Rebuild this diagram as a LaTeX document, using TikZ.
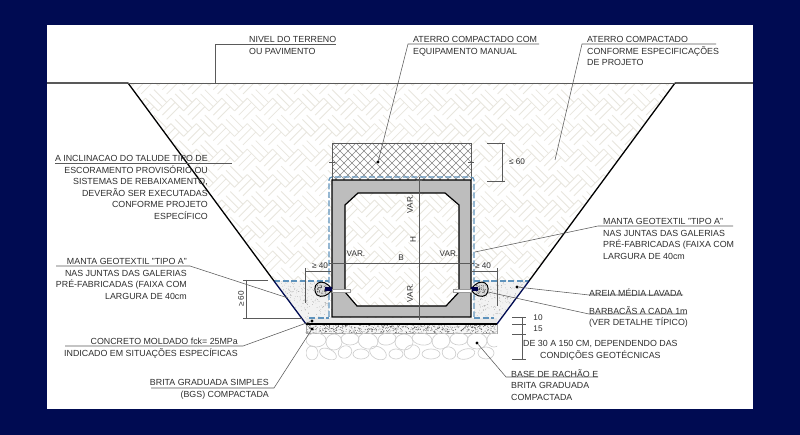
\documentclass[tikz,border=0pt]{standalone}
\usepackage{fontspec}
\setmainfont{Liberation Sans}
\definecolor{navybg}{HTML}{000B52}
\definecolor{soilln}{HTML}{E8E6DE}
\definecolor{txtgray}{HTML}{2E2E2E}
\definecolor{leadgray}{HTML}{5A5A5A}
\definecolor{mantablue}{HTML}{5F93BC}
\definecolor{wallgray}{HTML}{BDBDBD}
\tikzstyle{note}=[inner sep=0pt,yshift=-1.2pt,text=txtgray,font=\fontsize{8.85}{11.5}\selectfont,execute at begin node=\strut]
\tikzstyle{noteL}=[note,anchor=north west,align=left]
\tikzstyle{noteR}=[note,anchor=north east,align=right]
\tikzstyle{dimtxt}=[inner sep=0pt,text=txtgray,font=\fontsize{8.2}{9}\selectfont]
\tikzstyle{leader}=[draw=leadgray,line width=.55pt]
\tikzstyle{dimline}=[draw=leadgray,line width=.45pt]
\tikzstyle{dotmark}=[circle,fill=black,minimum size=3.4pt,inner sep=0pt]
\tikzstyle{manta}=[draw=mantablue,line width=1.2pt,dash pattern=on 6pt off 2.5pt]
\tikzstyle{stone}=[draw=gray!38,line width=.65pt]
\newcommand{\soilcell}[2]{%
    \ifodd\numexpr#1+#2+100\relax
	 \draw[soilln,line width=.8pt] (#1*18,#2*18) -- ++(18,0) (#1*18,#2*18+6) -- ++(18,0) (#1*18,#2*18+12) -- ++(18,0);
    \else
	 \draw[soilln,line width=.8pt] (#1*18,#2*18) -- ++(0,18) (#1*18+6,#2*18) -- ++(0,18) (#1*18+12,#2*18) -- ++(0,18);
    \fi}
\newcommand{\barbacan}{%
    \draw[black,line width=1pt,fill=gray!28] (332,290) .. controls (328,282) and (321,281) .. (318,283) .. controls (314,285) and (314,292) .. (317,295) .. controls (321,298) and (328,296) .. (332,290) -- cycle;
    \fill[black!70] \foreach \n in {1,...,45}{ ({317+10*rnd},{285+9*rnd}) circle (.4) };
    \fill[black!70!blue] (325,287.5) rectangle (332,291.5);
    \draw[gray!80,line width=.5pt,fill=white] (332,289) rectangle (350,292);}

\begin{document}
\begin{tikzpicture}[x=1pt,y=-1pt]
    \useasboundingbox (0,0) rectangle (800,435);
    \pgfmathsetseed{11}
    \fill[navybg] (0,0) rectangle (800,435);
    \fill[white] (47,25) rectangle (753,409);
    % coordinates of the trench
    \coordinate (SoilTL) at (128,83);
    \coordinate (SoilTR) at (675,83);
    \coordinate (SoilBL) at (306,324);
    \coordinate (SoilBR) at (497,324);
    \coordinate (SandL) at (274,281);
    \coordinate (SandR) at (529,281);
    \coordinate (GroundL) at (47,83);
    \coordinate (GroundR) at (753,83);
    % compacted fill
    \begin{scope}
	 \clip (SoilTL) -- (SoilTR) -- (SoilBR) -- (SoilBL) -- cycle;
	 \begin{scope}[shift={(400,200)},rotate=45]
	     \foreach \i in {-19,...,18}{\foreach \j in {-19,...,18}{\soilcell{\i}{\j}}}
	 \end{scope}
    \end{scope}
    % sand
    \fill[gray!10] (SandL) -- (SoilBL) -- (329,318) -- (329,281) -- cycle;
    \fill[gray!10] (SandR) -- (SoilBR) -- (474,318) -- (474,281) -- cycle;
    \fill[white] (329,281) rectangle (332,318) (471,281) rectangle (474,318);
    \begin{scope}
	 \clip (SandL) -- (SoilBL) -- (332,318) -- (332,281) -- cycle;
	 \fill[black!45] \foreach \n in {1,...,260}{ ({276+56*rnd},{281+38*rnd}) circle (.3) };
    \end{scope}
    \begin{scope}
	 \clip (SandR) -- (SoilBR) -- (471,318) -- (471,281) -- cycle;
	 \fill[black!45] \foreach \n in {1,...,260}{ ({471+56*rnd},{281+38*rnd}) circle (.3) };
    \end{scope}
    % manual fill
    \fill[white] (332,143) rectangle (471,180);
    \begin{scope}
	 \clip (332,143) rectangle (471,180);
	 \foreach \k in {-6,...,24}{
	     \draw[black!48,line width=.45pt] (332+\k*8,143) -- ++(37,37);
	     \draw[black!48,line width=.45pt] (332+\k*8,143) -- ++(-37,37);
	 }
    \end{scope}
    \draw[dimline] (332,143) -- (471,143) (332,143) -- (332,180) (471,143) -- (471,180);
    \draw[dimline] (329,162) -- (335,162) (468,162) -- (474,162);
    % base layers
    \fill[gray!18] (306,318) -- (497,318) -- (497,324) -- (306,324) -- cycle;
    \fill[gray!7] (306,324) rectangle (497,333);
    \fill[black!65] \foreach \n in {1,...,620}{ ({306+191*rnd},{324.5+8.5*rnd}) circle (.38) };
    \draw[gray!70,line width=.4pt] (306,324) -- (306,333) -- (497,333) -- (497,324);
    \begin{scope}
	 \clip (306,333) rectangle (497,359);
	 \foreach \cx/\cy/\rx/\ry/\ang in {316/340/10/7/0,334/342/8/8/20,350/339/9/6/0,368/341/10/8/-15,387/339/9/6/10,404/342/9/8/0,422/339/10/6/-10,441/341/9/8/15,459/339/9/6/0,477/341/10/8/0,494/340/7/7/0,
	     312/353/6/7/0,328/354/9/5/-25,345/352/7/6/30,361/354/8/5/0,378/353/9/6/-30,396/354/7/5/0,412/352/8/7/25,431/354/9/5/0,449/353/7/6/-25,466/354/9/5/15,486/353/8/6/0}{
	     \draw[stone,rotate around={\ang:(\cx,\cy)}] (\cx,\cy) ellipse (\rx pt and \ry pt);
	 }
    \end{scope}
    % gallery
    \draw[black,line width=1.2pt,fill=wallgray,even odd rule] (332,180) rectangle (471,317)
	 (358,193) -- (445,193) -- (459,205) -- (459,292) -- (446,306) -- (357,306) -- (345,292) -- (345,205) -- cycle;
    % geotextile
    \draw[manta,rounded corners=3pt] (329,317) -- (329,177) -- (474,177) -- (474,317);
    \draw[manta] (SandL) -- (329,281) (474,281) -- (SandR);
    \draw[manta] (309,318) -- (329,318) (474,318) -- (494,318);
    % drains
    \barbacan
    \begin{scope}[shift={(803,0)},xscale=-1]
	 \barbacan
    \end{scope}
    % trench lines
    \draw[black,line width=1.3pt] (SoilTL) -- (SandL) (SoilTR) -- (SandR) (GroundL) -- (SoilTL) (SoilTR) -- (GroundR);
    \draw[navybg,line width=1.3pt] (SandL) -- (SoilBL) (SandR) -- (SoilBR);
    \draw[black,line width=1.1pt] (SoilBL) -- (SoilBR);
    \draw[leader] (SoilTL) -- (SoilTR);
    % dimensions inside the gallery
    \coordinate (AxisT) at (419,177);
    \coordinate (AxisB) at (419,320);
    \coordinate (SpanL) at (332,263);
    \coordinate (SpanR) at (471,263);
    \draw[dimline] (AxisT) -- (AxisB);
    \draw[dimline] (SpanL) -- (SpanR);
    \draw[dimline] (416,317) -- (422,317) (416,180) -- (422,180) (329,263) -- (348,263) (456,263) -- (474,263);
    \node[dimtxt,rotate=90] (VarTop) at (410,204) {VAR.};
    \node[dimtxt,rotate=90] (DimH) at (413,240) {H};
    \node[dimtxt,rotate=90] (VarBot) at (410,293) {VAR.};
    \node[dimtxt] (VarL) at (356,254) {VAR.};
    \node[dimtxt] (VarR) at (449,254) {VAR.};
    \node[dimtxt] (DimB) at (401,258) {B};
    % dimensions outside
    \draw[dimline] (305,271) -- (332,271) (305,268) -- (305,303);
    \draw[dimline] (471,271) -- (497,271) (497,268) -- (497,306);
    \node[dimtxt] (GeL) at (320,266) {≥ 40};
    \node[dimtxt] (GeR) at (483,266) {≥ 40};
    \draw[dimline] (246,280) -- (246,318) (243,280) -- (268,280) (243,318) -- (302,318);
    \node[dimtxt,rotate=90] (GeH) at (241,299) {≥ 60};
    \draw[dimline] (502,143) -- (502,181) (487,143) -- (505,143) (487,181) -- (505,181);
    \node[dimtxt] (LeH) at (517,162) {≤ 60};
    \draw[dimline] (522,317) -- (522,359);
    \foreach \y in {317,324,334,359}{\draw[dimline] (512,\y) -- (526,\y);}
    \node[dimtxt] (DimTen) at (538,318) {10};
    \node[dimtxt] (DimFif) at (538,329) {15};
    \node[noteL,align=center] (DepNote) at (523,339) {DE 30 A 150 CM, DEPENDENDO DAS\\CONDIÇÕES GEOTÉCNICAS};
    % notes
    \node[noteL] (NoteNivel) at (249,35) {NIVEL DO TERRENO\\OU PAVIMENTO};
    \node[noteL] (NoteManual) at (413,35) {ATERRO COMPACTADO COM\\EQUIPAMENTO MANUAL};
    \node[noteL] (NoteAterro) at (587,35) {ATERRO COMPACTADO\\CONFORME ESPECIFICAÇÕES\\DE PROJETO};
    \node[noteR] (NoteTalude) at (208,154) {A INCLINACAO DO TALUDE TIPO DE\\ESCORAMENTO PROVISÓRIO OU\\SISTEMAS  DE REBAIXAMENTO,\\DEVERÃO SER EXECUTADAS\\CONFORME PROJETO\\ESPECÍFICO};
    \node[noteR] (NoteMantaL) at (187,257) {MANTA GEOTEXTIL "TIPO A"\\NAS JUNTAS DAS GALERIAS\\PRÉ-FABRICADAS (FAIXA COM\\LARGURA DE 40cm};
    \node[noteL] (NoteMantaR) at (603,217) {MANTA GEOTEXTIL "TIPO A"\\NAS JUNTAS DAS GALERIAS\\PRÉ-FABRICADAS (FAIXA COM\\LARGURA DE 40cm};
    \node[noteL] (NoteAreia) at (589,287) {AREIA MÉDIA LAVADA};
    \node[noteL] (NoteBarb) at (589,305) {BARBACÃS A CADA 1m\\(VER DETALHE TÍPICO)};
    \node[noteR] (NoteConc) at (238,337) {CONCRETO MOLDADO fck= 25MPa\\INDICADO EM SITUAÇÕES ESPECÍFICAS};
    \node[noteR] (NoteBrita) at (269,378) {BRITA GRADUADA SIMPLES\\(BGS) COMPACTADA};
    \node[noteL] (NoteBase) at (511,368) {BASE DE RACHÃO E\\BRITA GRADUADA\\COMPACTADA};
    % leader marks
    \node[dotmark] (DotManual) at (378,162) {};
    \node[dotmark] (DotAreia) at (517,287) {};
    \node[dotmark] (DotConc) at (312,321) {};
    \node[dotmark] (DotBrita) at (312,329) {};
    \node[dotmark] (DotBase) at (477,343) {};
    \coordinate (EndNivel) at (215,83);
    \coordinate (EndAterro) at (555,160);
    \coordinate (EndMantaL) at (288,298);
    \coordinate (EndMantaR) at (475,252);
    \coordinate (EndBarb) at (488,292);
    % leaders
    \draw[leader] (EndNivel) -- (215,44) -- (336,44);
    \draw[leader] (DotManual) -- (408,44) -- (539,44);
    \draw[leader] (EndAterro) -- (582,44) -- (716,44);
    \draw[leader] (55,163) -- (232,163);
    \draw[leader] (56,266) -- (190,266) -- (EndMantaL);
    \draw[leader] (EndMantaR) -- (598,226) -- (733,226);
    \draw[leader] (DotAreia) -- (589,295) -- (683,295);
    \draw[leader] (EndBarb) -- (589,314) -- (687,314);
    \draw[leader] (DotConc) -- (243,346) -- (65,346);
    \draw[leader] (DotBrita) -- (274,388) -- (151,388);
    \draw[leader] (DotBase) -- (506,377) -- (598,377);
\end{tikzpicture}
\end{document}
